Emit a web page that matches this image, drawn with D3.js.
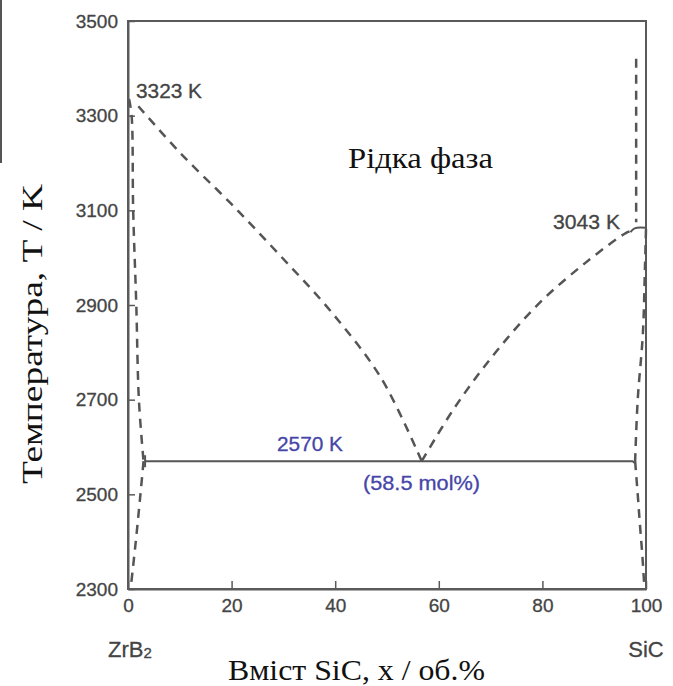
<!DOCTYPE html>
<html>
<head>
<meta charset="utf-8">
<script src="https://cdn.jsdelivr.net/npm/d3@7"></script>
<style>
  body { margin: 0; background: #fff; }
  .tick-label { font-family: "Liberation Sans", Arial, sans-serif; font-size: 19px; fill: #444; stroke: #444; stroke-width: 0.3px; }
  .note { font-family: "Liberation Sans", Arial, sans-serif; stroke-width: 0.3px; }
  .serif { font-family: "Liberation Serif", "Times New Roman", serif; fill: #111; }
</style>
</head>
<body>
<div id="chart"></div>
<script>
// values (x = mol% SiC, T = kelvin)
var xTicks = [0, 20, 40, 60, 80, 100];
var yTicks = [2300, 2500, 2700, 2900, 3100, 3300, 3500];

// liquidus, ZrB2 side and SiC side (dashed)
var liquidusLeft = [[2, 3320], [10.1, 3221], [19.8, 3115], [29.5, 3003], [39.2, 2886], [48.9, 2745], [56.7, 2570]];
var liquidusRight = [[56.7, 2570], [63.1, 2684], [70.9, 2799], [79.4, 2904], [88.3, 2989], [96.1, 3052], [97.5, 3058]];
// solidus / solvus lines near the pure ends (dashed)
var zrb2Upper = [[0.2, 3335], [0.7, 3300], [1.0, 3100], [1.6, 2900], [2.1, 2700], [3.0, 2570]];
var zrb2Lower = [[3.0, 2570], [2.4, 2500], [1.5, 2400], [0.5, 2300]];
var sicUpper = [[98.1, 3420], [98.1, 3075]];
var sicSolvus = [[100, 3060], [99.8, 2980], [99.4, 2840], [98.4, 2700], [97.9, 2570]];
var sicLower = [[97.9, 2570], [98.4, 2500], [98.8, 2440], [99.3, 2370], [99.7, 2300]];
// solid lines
var eutectic = [[3.3, 2570], [97.4, 2570], [97.9, 2566]];
var sicMelt = [[97.0, 3054], [97.8, 3062], [100, 3063]];

var W = 673, H = 686;
var margin = {top: 21, right: 27, bottom: 97, left: 128};

var svg = d3.select("#chart").append("svg")
    .attr("width", W)
    .attr("height", H);

var x = d3.scaleLinear().domain([0, 100]).range([margin.left, W - margin.right]);
var y = d3.scaleLinear().domain([2300, 3500]).range([H - margin.bottom, margin.top]);

// scan artefact on the left edge
svg.append("line")
    .attr("x1", 1).attr("x2", 1).attr("y1", 0).attr("y2", 163)
    .attr("stroke", "#555").attr("stroke-width", 2);

// frame
svg.append("rect")
    .attr("x", x(0)).attr("y", y(3500))
    .attr("width", x(100) - x(0)).attr("height", y(2300) - y(3500))
    .attr("fill", "none").attr("stroke", "#5a5a5a").attr("stroke-width", 2);

// axes with inward ticks
var fmt = d3.format("d");
var xAxis = svg.append("g")
    .attr("transform", "translate(0," + y(2300) + ")")
    .call(d3.axisBottom(x).tickValues(xTicks).tickFormat(fmt).tickSizeInner(-8).tickSizeOuter(0).tickPadding(10));
var yAxis = svg.append("g")
    .attr("transform", "translate(" + x(0) + ",0)")
    .call(d3.axisLeft(y).tickValues(yTicks).tickFormat(fmt).tickSizeInner(-7).tickSizeOuter(0).tickPadding(10));

[xAxis, yAxis].forEach(function(a) {
  a.attr("font-size", null).attr("font-family", null);
  a.select(".domain").attr("stroke", "#5a5a5a").attr("stroke-width", 2);
  a.selectAll(".tick line").attr("stroke", "#5a5a5a").attr("stroke-width", 1.5);
  a.selectAll(".tick text").attr("class", "tick-label");
});

var line = d3.line()
    .x(function(d) { return x(d[0]); })
    .y(function(d) { return y(d[1]); })
    .curve(d3.curveCatmullRom.alpha(0.5));

var straight = d3.line()
    .x(function(d) { return x(d[0]); })
    .y(function(d) { return y(d[1]); });

var dashed = [liquidusLeft, liquidusRight, zrb2Upper, zrb2Lower, sicUpper, sicSolvus, sicLower];
svg.selectAll("path.dash")
    .data(dashed)
  .enter().append("path")
    .attr("class", "dash")
    .attr("d", line)
    .attr("fill", "none")
    .attr("stroke", "#555")
    .attr("stroke-width", 2.5)
    .attr("stroke-dasharray", "9,7");

svg.append("path")
    .attr("d", straight(eutectic))
    .attr("fill", "none").attr("stroke", "#555").attr("stroke-width", 2);
svg.append("path")
    .attr("d", line(sicMelt))
    .attr("fill", "none").attr("stroke", "#555").attr("stroke-width", 2);

// little bar where the eutectic line meets the ZrB2 solidus
svg.append("line")
    .attr("x1", x(3.3)).attr("x2", x(3.3))
    .attr("y1", y(2570) - 6).attr("y2", y(2570) + 6)
    .attr("stroke", "#555").attr("stroke-width", 2);

// annotations
function note(txt, px, py, col, anchor) {
  return svg.append("text").attr("class", "note")
      .attr("x", px).attr("y", py)
      .attr("font-size", 20)
      .attr("text-anchor", anchor || "start")
      .attr("fill", col).attr("stroke", col).text(txt);
}
note("3323 K", 136, 98, "#444").attr("textLength", 66).attr("lengthAdjust", "spacingAndGlyphs");
note("3043 K", 553, 229, "#444").attr("textLength", 67).attr("lengthAdjust", "spacingAndGlyphs");
note("2570 K", 277, 451, "#4646a8").attr("textLength", 66).attr("lengthAdjust", "spacingAndGlyphs");
note("(58.5 mol%)", 363, 490, "#4646a8").attr("textLength", 117).attr("lengthAdjust", "spacingAndGlyphs");

svg.append("text").attr("class", "serif")
    .attr("x", 348).attr("y", 168).attr("font-size", 30)
    .attr("textLength", 145).attr("lengthAdjust", "spacingAndGlyphs")
    .text("Рідка фаза");

// component labels
var zr = svg.append("text").attr("class", "note")
    .attr("x", 108).attr("y", 657)
    .attr("font-size", 22).attr("fill", "#444").attr("stroke", "#444");
zr.append("tspan").text("ZrB");
zr.append("tspan").attr("font-size", 15).attr("dy", 1).text("2");
svg.append("text").attr("class", "note")
    .attr("x", 646).attr("y", 657).attr("text-anchor", "middle")
    .attr("font-size", 22).attr("fill", "#444").attr("stroke", "#444").text("SiC");

// axis titles
svg.append("text").attr("class", "serif")
    .attr("x", 228).attr("y", 680)
    .attr("font-size", 30)
    .attr("textLength", 257).attr("lengthAdjust", "spacingAndGlyphs")
    .text("Вміст SiC, x / об.%");
svg.append("text").attr("class", "serif")
    .attr("transform", "translate(42,484) rotate(-90)")
    .attr("font-size", 30)
    .attr("textLength", 300).attr("lengthAdjust", "spacingAndGlyphs")
    .text("Температура, T / K");
</script>
</body>
</html>
